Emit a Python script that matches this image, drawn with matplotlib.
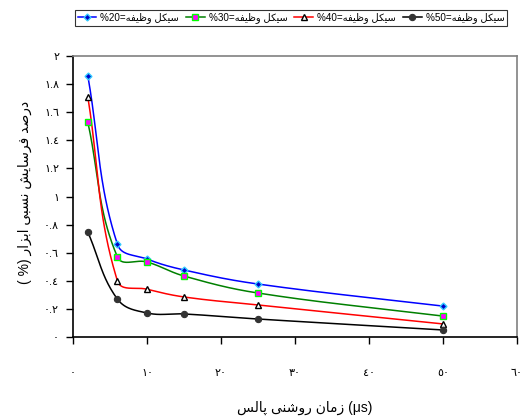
import numpy as np
import matplotlib
matplotlib.use("Agg")
import matplotlib.pyplot as plt
from matplotlib.lines import Line2D

plt.rcParams['font.family'] = ['Liberation Sans', 'DejaVu Sans']

# data
pulse_on_time = [2, 6, 10, 15, 25, 50]
wear_20 = [1.86, 0.66, 0.555, 0.477, 0.377, 0.22]
wear_30 = [1.53, 0.57, 0.534, 0.434, 0.313, 0.149]
wear_40 = [1.71, 0.40, 0.34, 0.285, 0.228, 0.093]
wear_50 = [0.747, 0.27, 0.171, 0.164, 0.128, 0.05]
duty_labels = ["20", "30", "40", "50"]

x_ticks = [0, 10, 20, 30, 40, 50, 60]
y_ticks = [0, 0.2, 0.4, 0.6, 0.8, 1.0, 1.2, 1.4, 1.6, 1.8, 2.0]

# presentation forms: isolated, final, initial, medial (None -> right-joining only)
FORMS = {
    'ا': ('\uFE8D', '\uFE8E', None, None),
    'ب': ('\uFE8F', '\uFE90', '\uFE91', '\uFE92'),
    'پ': ('\uFB56', '\uFB57', '\uFB58', '\uFB59'),
    'د': ('\uFEA9', '\uFEAA', None, None),
    'ر': ('\uFEAD', '\uFEAE', None, None),
    'ز': ('\uFEAF', '\uFEB0', None, None),
    'س': ('\uFEB1', '\uFEB2', '\uFEB3', '\uFEB4'),
    'ش': ('\uFEB5', '\uFEB6', '\uFEB7', '\uFEB8'),
    'ص': ('\uFEB9', '\uFEBA', '\uFEBB', '\uFEBC'),
    'ظ': ('\uFEC5', '\uFEC6', '\uFEC7', '\uFEC8'),
    'ف': ('\uFED1', '\uFED2', '\uFED3', '\uFED4'),
    'ک': ('\uFB8E', '\uFB8F', '\uFB90', '\uFB91'),
    'ل': ('\uFEDD', '\uFEDE', '\uFEDF', '\uFEE0'),
    'م': ('\uFEE1', '\uFEE2', '\uFEE3', '\uFEE4'),
    'ن': ('\uFEE5', '\uFEE6', '\uFEE7', '\uFEE8'),
    'ه': ('\uFEE9', '\uFEEA', '\uFEEB', '\uFEEC'),
    'و': ('\uFEED', '\uFEEE', None, None),
    'ی': ('\uFBFC', '\uFBFD', '\uFBFE', '\uFBFF'),
}


def shape(text):
    # join Persian letters and return them in visual (left-to-right) order
    out = []
    for i, ch in enumerate(text):
        if ch not in FORMS:
            out.append(ch)
            continue
        prev = text[i - 1] if i > 0 else ''
        nxt = text[i + 1] if i + 1 < len(text) else ''
        join_prev = prev in FORMS and FORMS[prev][2] is not None
        join_next = nxt in FORMS and FORMS[ch][2] is not None
        iso, fin, ini, med = FORMS[ch]
        if join_prev and join_next:
            out.append(med)
        elif join_prev:
            out.append(fin)
        elif join_next:
            out.append(ini)
        else:
            out.append(iso)
    return ''.join(reversed(out))


def fa_digits(v):
    s = '%g' % v
    return ''.join(chr(0x0660 + int(c)) if c.isdigit() else c for c in s)


def smooth(ax, xs, ys, k=0.38, n=40):
    # Excel-like smoothed line, built in screen space
    P = ax.transData.transform(np.column_stack([xs, ys]))
    pts = []
    for i in range(len(P) - 1):
        p0 = P[i - 1] if i > 0 else P[i]
        p1, p2 = P[i], P[i + 1]
        p3 = P[i + 2] if i + 2 < len(P) else P[i + 1]
        d12 = np.hypot(*(p2 - p1))
        t1 = (p2 - p0) / np.hypot(*(p2 - p0))
        t2 = (p3 - p1) / np.hypot(*(p3 - p1))
        c1 = p1 + t1 * d12 * k
        c2 = p2 - t2 * d12 * k
        t = np.linspace(0, 1, n)[:, None]
        seg = ((1 - t) ** 3) * p1 + 3 * ((1 - t) ** 2) * t * c1 + 3 * (1 - t) * t ** 2 * c2 + t ** 3 * p2
        pts.append(seg if i == 0 else seg[1:])
    pts = ax.transData.inverted().transform(np.vstack(pts))
    return pts[:, 0], pts[:, 1]


series = [
    (wear_20, '#0000ff', dict(marker='D', ms=3.5, mfc='#0000cc', mec='#33ccff', mew=1.0)),
    (wear_30, '#008000', dict(marker='s', ms=4, mfc='#ff00ff', mec='#00ff00', mew=1.0)),
    (wear_40, '#ff0000', dict(marker='^', ms=4.5, mfc='white', mec='black', mew=1.0)),
    (wear_50, '#000000', dict(marker='o', ms=4.5, mfc='#333333', mec='#333333', mew=0.8)),
]

fig = plt.figure(figsize=(5.22, 4.2), dpi=100)
ax = fig.add_axes([73 / 522, 1 - 337 / 420, 444 / 522, 281 / 420])
ax.set_xlim(0, 60)
ax.set_ylim(0, 2)

handles = []
for vals, color, mk in series:
    sx, sy = smooth(ax, pulse_on_time, vals)
    ax.plot(sx, sy, color=color, lw=1.1, zorder=2)
    ax.plot(pulse_on_time, vals, ls='none', zorder=3, **mk)
    handles.append(Line2D([], [], color=color, lw=1.1, **mk))

ax.set_xticks(x_ticks)
ax.set_xticklabels([fa_digits(v) for v in x_ticks], fontsize=8)
ax.set_yticks(y_ticks)
ax.set_yticklabels([fa_digits(v) for v in y_ticks], fontsize=8)
ax.tick_params(axis='x', direction='out', length=5, pad=17, width=1)
ax.tick_params(axis='y', direction='out', length=5, pad=5, width=1)

for side in ['left', 'bottom']:
    ax.spines[side].set_color('black')
    ax.spines[side].set_linewidth(1.2)
for side in ['top', 'right']:
    ax.spines[side].set_color('#808080')
    ax.spines[side].set_linewidth(1.2)

word = shape('سیکل وظیفه')
labels = ['%' + d + '=' + word for d in duty_labels]
leg = fig.legend(handles, labels, loc='center', bbox_to_anchor=(291 / 522, 1 - 18 / 420),
                 ncol=4, fontsize=7.1, frameon=True, fancybox=False, edgecolor='black',
                 handlelength=1.9, handletextpad=0.4, columnspacing=0.7, borderpad=0.3)
leg.get_frame().set_linewidth(0.8)

ylabel = '( %) ' + shape('درصد فرسایش نسبی ابزار')
fig.text(25 / 522, 1 - 192 / 420, ylabel, rotation=90, ha='center', va='center', fontsize=10)
xlabel = shape('زمان روشنی پالس') + ' (μs)'
fig.text(305 / 522, 1 - 408 / 420, xlabel, ha='center', va='center', fontsize=10)

fig.savefig('out.png', dpi=100)
